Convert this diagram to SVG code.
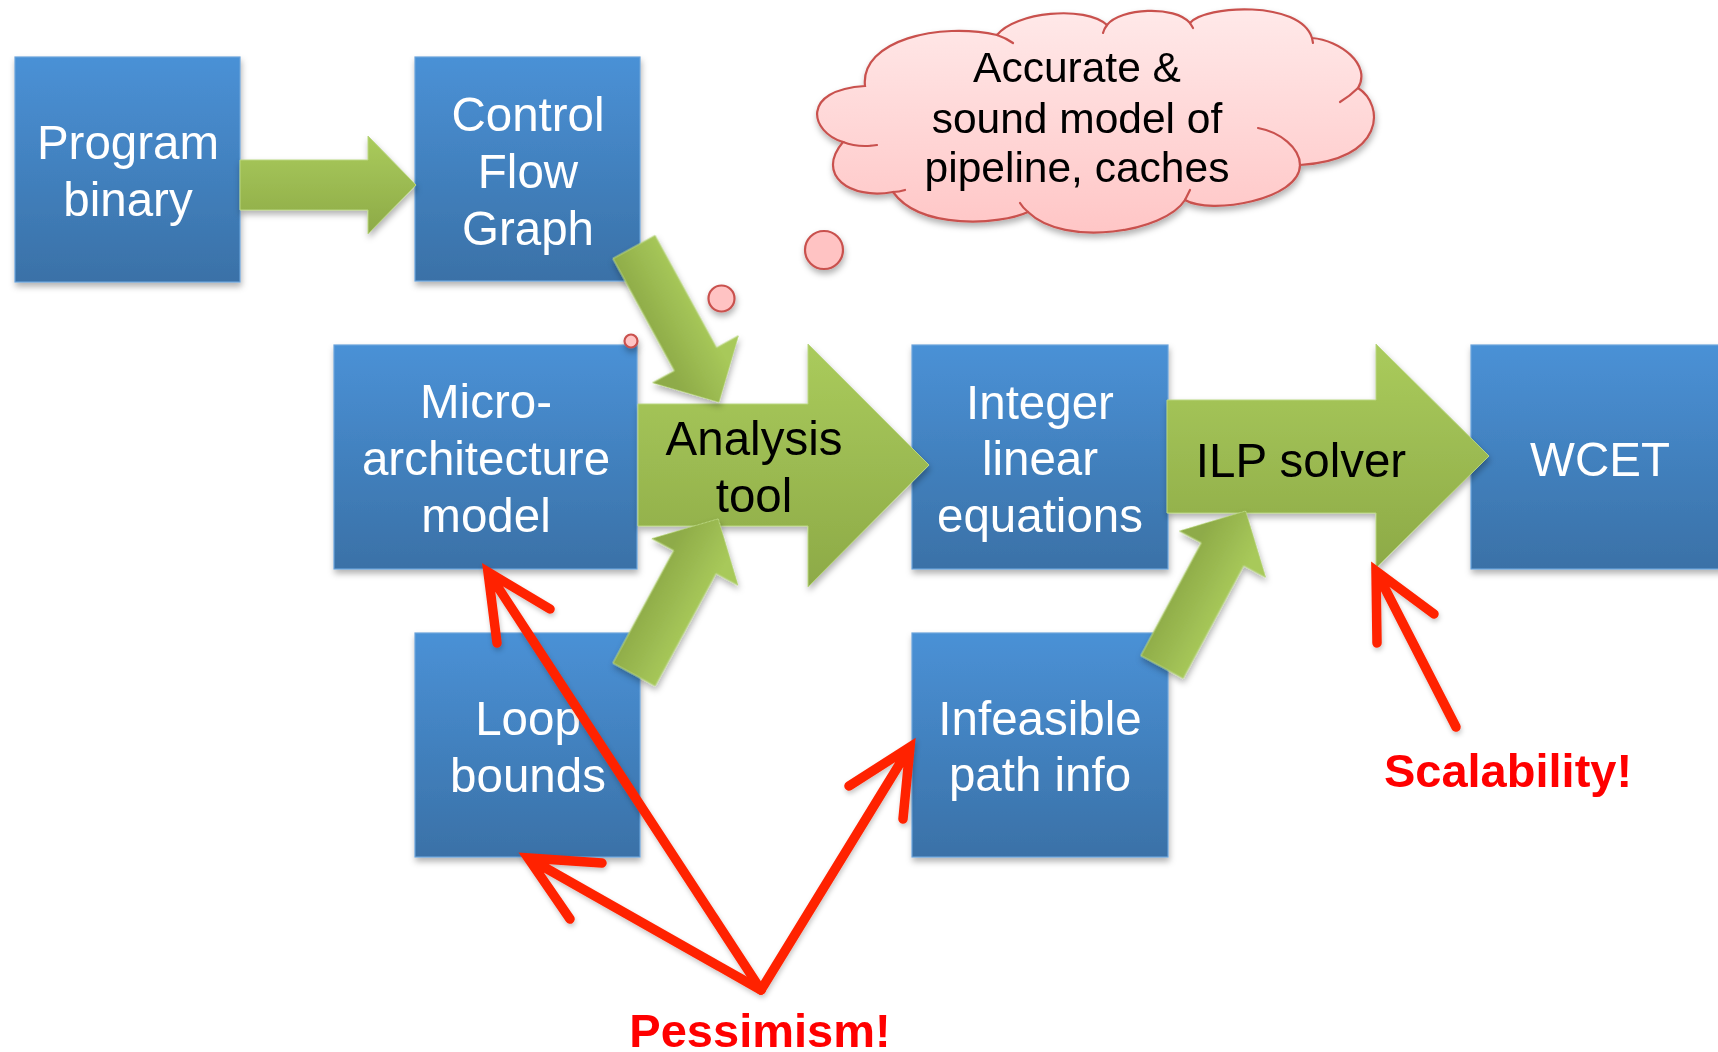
<svg xmlns="http://www.w3.org/2000/svg" width="1718" height="1052" viewBox="0 0 1718 1052">
  <defs>
    <linearGradient id="boxFill" x1="0" y1="0" x2="0" y2="1">
      <stop offset="0" stop-color="#4A91D6"/>
      <stop offset="1" stop-color="#3A71A7"/>
    </linearGradient>
    <linearGradient id="greenFill" x1="0" y1="0" x2="0" y2="1">
      <stop offset="0" stop-color="#AACB5C"/>
      <stop offset="1" stop-color="#8DAA47"/>
    </linearGradient>
    <!-- diagonal block arrows are drawn in a local frame pointing along +x -->
    <linearGradient id="greenDiagA" gradientUnits="userSpaceOnUse" x1="0" y1="-28" x2="0" y2="28">
      <stop offset="0" stop-color="#A8C95A"/>
      <stop offset="1" stop-color="#8EAB48"/>
    </linearGradient>
    <linearGradient id="greenDiagB" gradientUnits="userSpaceOnUse" x1="0" y1="-28" x2="0" y2="28">
      <stop offset="0" stop-color="#8EAB48"/>
      <stop offset="1" stop-color="#A8C95A"/>
    </linearGradient>
    <linearGradient id="cloudFill" x1="0" y1="0" x2="0" y2="1">
      <stop offset="0" stop-color="#FFE9E9"/>
      <stop offset="1" stop-color="#FFC6C6"/>
    </linearGradient>
    <filter id="shadow" x="-10%" y="-10%" width="130%" height="130%">
      <feDropShadow dx="1" dy="4" stdDeviation="3" flood-color="#000" flood-opacity="0.3"/>
    </filter>
    <filter id="softShadow" x="-10%" y="-10%" width="130%" height="130%">
      <feDropShadow dx="1" dy="3" stdDeviation="2.5" flood-color="#000" flood-opacity="0.22"/>
    </filter>
    <polygon id="diagArrow" points="0,-24 128,-24 128,-49 177,0 128,49 128,24 0,24"/>
    <style>
      .box { fill: url(#boxFill); stroke: #6AA3DB; stroke-width: 1.2; }
      .lbl { font-family: "Liberation Sans", Arial, Helvetica, sans-serif; font-size: 47.5px; fill: #FFFFFF; text-anchor: middle; }
      .ink { fill: #000000; }
      .blk { stroke: #B9D680; stroke-width: 1; }
      .cloud { fill: url(#cloudFill); stroke: #C9514E; stroke-width: 2.2; }
      .seam { fill: none; stroke: #C9514E; stroke-width: 2.2; stroke-linecap: round; }
      .bubble { fill: #FFC3C3; stroke: #C9514E; stroke-width: 2.2; }
      .cloudTxt { font-family: "Liberation Sans", Arial, Helvetica, sans-serif; font-size: 42.5px; fill: #000000; text-anchor: middle; }
      .red { fill: none; stroke: #FF2400; stroke-width: 9.5; stroke-linecap: round; stroke-linejoin: miter; }
      .warn { font-family: "Liberation Sans", Arial, Helvetica, sans-serif; font-weight: bold; font-size: 47px; fill: #FF0000; text-anchor: middle; }
    </style>
  </defs>

  <rect width="1718" height="1052" fill="#FFFFFF"/>

  <!-- blue process boxes -->
  <g id="node-program" filter="url(#shadow)">
    <rect class="box" x="15" y="57" width="225" height="225"/>
    <text class="lbl" x="128" y="159">Program</text>
    <text class="lbl" x="128" y="216">binary</text>
  </g>
  <g id="node-cfg" filter="url(#shadow)">
    <rect class="box" x="415" y="57" width="225" height="224"/>
    <text class="lbl" x="528" y="131">Control</text>
    <text class="lbl" x="528" y="188">Flow</text>
    <text class="lbl" x="528" y="245">Graph</text>
  </g>
  <g id="node-micro" filter="url(#shadow)">
    <rect class="box" x="334" y="345" width="303" height="224"/>
    <text class="lbl" x="486" y="418">Micro-</text>
    <text class="lbl" x="486" y="475">architecture</text>
    <text class="lbl" x="486" y="532">model</text>
  </g>
  <g id="node-loop" filter="url(#shadow)">
    <rect class="box" x="415" y="633" width="225" height="224"/>
    <text class="lbl" x="528" y="735">Loop</text>
    <text class="lbl" x="528" y="792">bounds</text>
  </g>
  <g id="node-equations" filter="url(#shadow)">
    <rect class="box" x="912" y="345" width="256" height="224"/>
    <text class="lbl" x="1040" y="419">Integer</text>
    <text class="lbl" x="1040" y="475">linear</text>
    <text class="lbl" x="1040" y="532">equations</text>
  </g>
  <g id="node-infeasible" filter="url(#shadow)">
    <rect class="box" x="912" y="633" width="256" height="224"/>
    <text class="lbl" x="1040" y="735">Infeasible</text>
    <text class="lbl" x="1040" y="791">path info</text>
  </g>
  <g id="node-wcet" filter="url(#shadow)">
    <rect class="box" x="1471" y="345" width="262" height="224"/>
    <text class="lbl" x="1600" y="476">WCET</text>
  </g>

  <!-- labelled block arrows acting as process steps -->
  <g id="node-analysis" filter="url(#shadow)">
    <polygon class="blk" fill="url(#greenFill)" points="638,404 808,404 808,344 929,465 808,587 808,526 638,526"/>
    <text class="lbl ink" x="754" y="455">Analysis</text>
    <text class="lbl ink" x="754" y="512">tool</text>
  </g>
  <g id="node-ilp" filter="url(#shadow)">
    <polygon class="blk" fill="url(#greenFill)" points="1167,400 1376,400 1376,344 1489,456 1376,568 1376,513 1167,513"/>
    <text class="lbl ink" x="1301" y="477">ILP solver</text>
  </g>

  <!-- plain green flow arrows -->
  <g id="connectors" filter="url(#shadow)">
    <polygon class="blk" fill="url(#greenFill)" points="240,160 368,160 368,136 416,185 368,234 368,210 240,210"/>
    <use href="#diagArrow" class="blk" fill="url(#greenDiagA)" transform="translate(634,247) rotate(61.3)"/>
    <use href="#diagArrow" class="blk" fill="url(#greenDiagB)" transform="translate(634,674.5) rotate(-61.6)"/>
    <use href="#diagArrow" class="blk" fill="url(#greenDiagB)" transform="translate(1162,667) rotate(-61.8)"/>
  </g>

  <!-- thought cloud -->
  <g id="node-cloud">
    <g filter="url(#shadow)">
      <path class="cloud" d="M865,86 C860,40 940,22 997,35 C1015,12 1085,5 1107,25 C1120,8 1175,5 1190,23 C1205,5 1300,0 1312,38 C1340,40 1372,65 1358,88 C1385,105 1385,160 1300,165 C1300,200 1210,215 1185,200 C1165,232 1065,248 1028,212 C1000,225 920,230 893,192 C850,200 815,175 843,142 C810,132 800,90 865,86 Z"/>
      <circle class="bubble" cx="824" cy="250" r="19"/>
      <circle class="bubble" cx="721.5" cy="298.5" r="13"/>
      <circle class="bubble" cx="631" cy="341" r="6.5"/>
    </g>
    <path class="seam" d="M843,142 Q858,148 877,145"/>
    <path class="seam" d="M893,192 Q899,192 905,190"/>
    <path class="seam" d="M1028,212 Q1023,208 1020,203"/>
    <path class="seam" d="M997,35 Q1006,38 1013,43"/>
    <path class="seam" d="M1107,25 Q1104,29 1103,33"/>
    <path class="seam" d="M1190,23 L1193,28"/>
    <path class="seam" d="M1312,38 L1313,43"/>
    <path class="seam" d="M1358,88 Q1350,96 1340,102"/>
    <path class="seam" d="M1258,128 C1280,132 1300,148 1300,165"/>
    <path class="seam" d="M1185,200 L1190,190"/>
    <text class="cloudTxt" x="1077" y="82">Accurate &amp;</text>
    <text class="cloudTxt" x="1077" y="133">sound model of</text>
    <text class="cloudTxt" x="1077" y="182">pipeline, caches</text>
  </g>

  <!-- red callout arrows -->
  <g id="callouts" filter="url(#softShadow)">
    <path class="red" d="M761,990 L488,572 M497,643 L488,572 L550,609"/>
    <path class="red" d="M761,990 L528,858 M602,863 L528,858 L570,919"/>
    <path class="red" d="M761,990 L910,747 M849,786 L910,747 L903,819"/>
    <path class="red" d="M1456,727 L1376,571 M1434,614 L1376,571 L1377,643"/>
  </g>

  <g id="label-pessimism">
    <text class="warn" x="760" y="1047">Pessimism!</text>
  </g>
  <g id="label-scalability">
    <text class="warn" x="1508" y="787">Scalability!</text>
  </g>
</svg>
